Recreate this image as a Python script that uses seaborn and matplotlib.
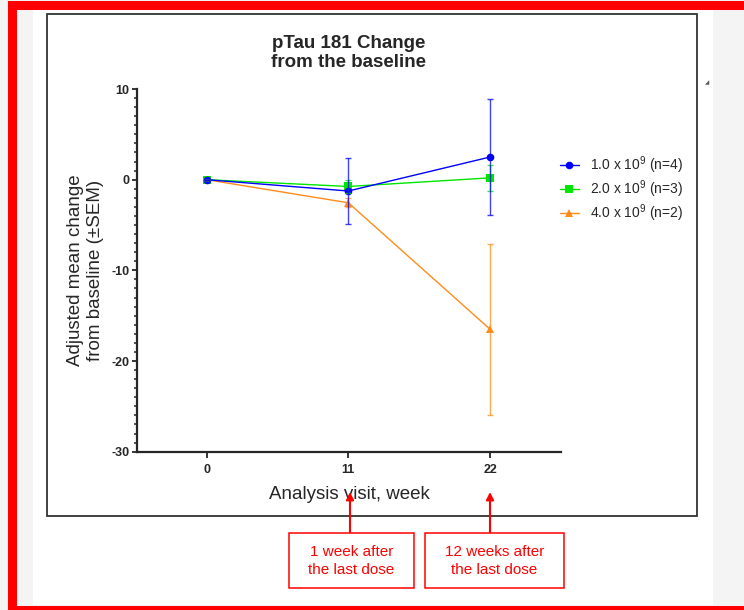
import numpy as np
import pandas as pd
import matplotlib
matplotlib.use('Agg')
import matplotlib.pyplot as plt
from matplotlib.patches import Rectangle
from matplotlib.ticker import MultipleLocator, FixedLocator
import seaborn as sns

# ─────────────── data ───────────────
WEEKS = [0, 11, 22]
DOSE_LABELS = ['1.0 x 10$^{9}$ (n=4)', '2.0 x 10$^{9}$ (n=3)', '4.0 x 10$^{9}$ (n=2)']
MEAN_LOW = [0.0, -1.25, 2.5]
SEM_LOW = [0.0, 3.6, 6.35]
MEAN_MID = [0.0, -0.75, 0.2]
SEM_MID = [0.0, 0.7, 1.4]
MEAN_HIGH = [0.0, -2.55, -16.5]
SEM_HIGH = [0.0, 0.5, 9.4]

COLORS = ['#0000ff', '#00e600', '#ff8c1a']
MARKERS = ['o', 's', '^']
NOTES = ['1 week after\nthe last dose', '12 weeks after\nthe last dose']

W, H = 744, 610


def fx(x):
    return x / W


def fy(y):
    return 1 - y / H


rows = []
for lab, means, sems in zip(DOSE_LABELS, [MEAN_LOW, MEAN_MID, MEAN_HIGH], [SEM_LOW, SEM_MID, SEM_HIGH]):
    for wk, m, s in zip(WEEKS, means, sems):
        rows.append({'dose': lab, 'week': wk, 'mean': m, 'sem': s})
df = pd.DataFrame(rows)

sns.set_style('ticks')
plt.rcParams['font.family'] = ['Liberation Sans', 'DejaVu Sans']
plt.rcParams['mathtext.fontset'] = 'custom'
plt.rcParams['mathtext.rm'] = 'Liberation Sans'
plt.rcParams['axes.unicode_minus'] = False

fig = plt.figure(figsize=(W / 100, H / 100), dpi=100, facecolor='#f4f4f4')

# page background, black frame, red outline
fig.add_artist(Rectangle((fx(33), fy(605)), fx(713) - fx(33), fy(9) - fy(605),
                         transform=fig.transFigure, facecolor='white', edgecolor='none', zorder=-3))
fig.add_artist(Rectangle((fx(47), fy(516)), fx(697) - fx(47), fy(14) - fy(516),
                         transform=fig.transFigure, facecolor='none', edgecolor='#333333', lw=1.3, zorder=-2))
fig.add_artist(Rectangle((fx(11.5), fy(609.5)), fx(760) - fx(11.5), fy(4.5) - fy(609.5),
                         transform=fig.transFigure, facecolor='none', edgecolor='#ff0000', lw=6.5, zorder=-1))
fig.text(fx(707), fy(83), '◢', fontsize=4, color='#555555', ha='center', va='center',
         family=['DejaVu Sans'])

ax = fig.add_axes([fx(137), fy(451.7), fx(561) - fx(137), fy(89) - fy(451.7)])
ax.set_facecolor('none')

order = DOSE_LABELS[::-1]  # draw high dose first so low dose sits on top
pal = dict(zip(DOSE_LABELS, COLORS))
mk = dict(zip(DOSE_LABELS, MARKERS))
sns.lineplot(data=df, x='week', y='mean', hue='dose', style='dose', hue_order=order, style_order=order,
             palette=pal, markers=mk, dashes=False, errorbar=None, linewidth=1.0, markersize=5.5,
             markeredgewidth=0, ax=ax)

for lab in order:
    sub = df[df['dose'] == lab]
    ax.errorbar(sub['week'], sub['mean'], yerr=sub['sem'], fmt='none', ecolor=pal[lab],
                elinewidth=1.0, capsize=2.5, capthick=1.0, alpha=0.75)

handles, labels = ax.get_legend_handles_labels()
handles, labels = handles[::-1], labels[::-1]
ax.legend(handles, labels, loc='upper left', bbox_to_anchor=(fx(560), fy(154)),
          bbox_transform=fig.transFigure, frameon=False, fontsize=10, borderpad=0, borderaxespad=0,
          handlelength=1.35, handletextpad=0.8, labelspacing=0.2)

ax.set_xlim(-5.4, 27.5)
ax.set_ylim(-30, 10)
ax.xaxis.set_major_locator(FixedLocator(WEEKS))
ax.yaxis.set_major_locator(MultipleLocator(10))
ax.yaxis.set_minor_locator(MultipleLocator(1))
sns.despine(ax=ax)
for sp in ['left', 'bottom']:
    ax.spines[sp].set_linewidth(1.6)
ax.tick_params(axis='x', which='major', length=4.5, width=1.3, pad=4.5, labelsize=9)
ax.tick_params(axis='y', which='major', length=3.5, width=1.3, pad=2, labelsize=9)
ax.tick_params(axis='y', which='minor', length=2.0, width=1.1)
for t in ax.get_xticklabels() + ax.get_yticklabels():
    t.set_fontweight('bold')

ax.set_xlabel('Analysis visit, week', fontsize=13.5, labelpad=7)
ax.set_ylabel('Adjusted mean change\nfrom baseline (±SEM)', fontsize=13.5, labelpad=5, linespacing=1.25)
ax.set_title('pTau 181 Change\nfrom the baseline', fontsize=13.5, fontweight='bold', pad=16, linespacing=1.15)

# red call-outs under the x axis
for x0, x1, xa, note in zip([289, 425], [414, 564], [350, 490], NOTES):
    ax.annotate('', xy=(fx(xa), fy(492)), xytext=(fx(xa), fy(533)), xycoords='figure fraction',
                textcoords='figure fraction',
                arrowprops=dict(arrowstyle='-|>', color='#ff0000', lw=1.5, mutation_scale=11,
                                shrinkA=0, shrinkB=0))
    fig.add_artist(Rectangle((fx(x0), fy(588)), fx(x1) - fx(x0), fy(533) - fy(588),
                             transform=fig.transFigure, facecolor='white', edgecolor='#ff0000', lw=1.1))
    fig.text(fx((x0 + x1) / 2), fy(561), note, color='#ff0000', fontsize=11, ha='center', va='center',
             linespacing=1.3)

fig.savefig('out.png', dpi=100, facecolor=fig.get_facecolor())
